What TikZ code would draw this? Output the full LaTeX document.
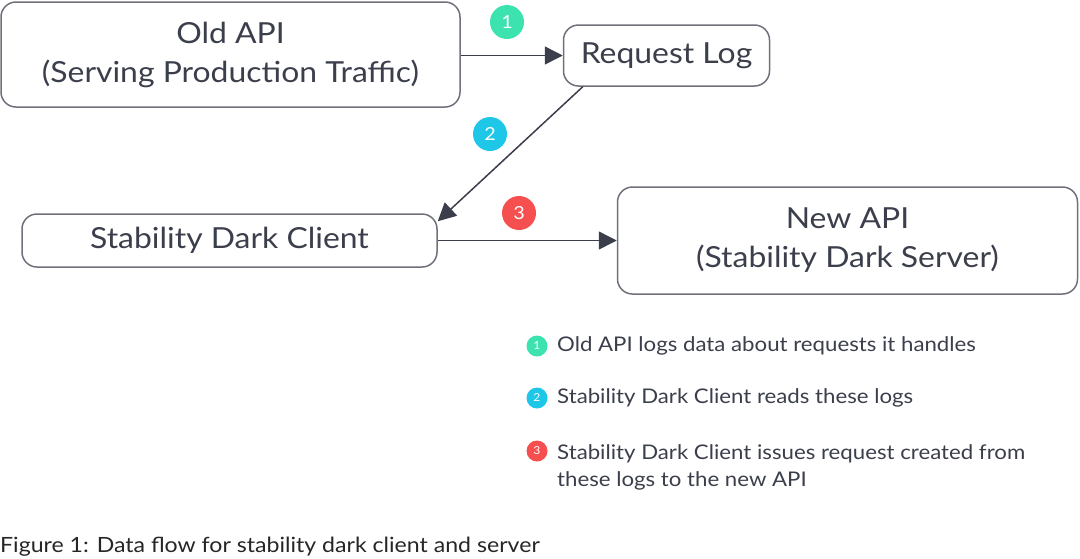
\documentclass[tikz,border=0pt]{standalone}
\usepackage{fontspec}
\setmainfont[FakeStretch=1.1]{Lato}
\usetikzlibrary{arrows.meta}
\definecolor{ink}{HTML}{3B3E4B}
\definecolor{edge}{HTML}{6E717B}
\definecolor{cgreen}{HTML}{3DE3AE}
\definecolor{ccyan}{HTML}{1EC6E8}
\definecolor{cred}{HTML}{F5504F}
\begin{document}
\begin{tikzpicture}[x=1pt,y=-1pt,
  box/.style={draw=edge,line width=1.5pt,rounded corners=15pt,align=center,text=ink,inner sep=0pt,font=\fontsize{29}{39}\selectfont},
  flow/.style={draw=ink,line width=1.5pt,-{Triangle[length=18pt,width=18pt]}},
  badge/.style={circle,fill=#1,text=white,minimum size=34pt,inner sep=0pt,font=\fontsize{18}{18}\selectfont},
  dot/.style={circle,fill=#1,text=white,minimum size=21pt,inner sep=0pt,font=\fontsize{11}{11}\selectfont},
  legend/.style={anchor=west,text=ink,align=left,inner sep=0pt,font=\fontsize{20.2}{27}\selectfont}]
\useasboundingbox (0,0) rectangle (1080,558);
\node[box,minimum width=459pt,minimum height=105pt] (old) at (230.5,54.5) {Old API\\(Serving Production Traffic)};
\node[box,minimum width=206pt,minimum height=61pt] (rl) at (666.5,55.5) {Request Log};
\node[box,minimum width=415pt,minimum height=53pt] (cl) at (229.5,240.5) {Stability Dark Client};
\node[box,minimum width=460pt,minimum height=107pt] (new) at (847.5,240.5) {New API\\(Stability Dark Server)};
\draw[flow] (old.east |- rl.west) -- (rl.west);
\draw[flow] ([xshift=20pt]rl.south west) -- ([yshift=-8pt]cl.north east);
\draw[flow] (cl.east) -- (new.west |- cl.east);
\node[badge=cgreen] (b1) at (507,22) {1};
\node[badge=ccyan] (b2) at (490,134) {2};
\node[badge=cred] (b3) at (519,213) {3};
\node[dot=cgreen] (d1) at (537,346) {1};
\node[dot=ccyan] (d2) at (537,398) {2};
\node[dot=cred] (d3) at (537,451) {3};
\node[legend] (t1) at (557,346) {Old API logs data about requests it handles};
\node[legend] (t2) at (557,398) {Stability Dark Client reads these logs};
\node[legend,anchor=north west] (t3) at (557,444) {Stability Dark Client issues request created from\\these logs to the new API};
\node[anchor=west,inner sep=0pt,text=black!85,font=\fontsize{21}{24}\selectfont] (cap) at (0,547) {Figure 1: Data flow for stability dark client and server};
\end{tikzpicture}
\end{document}
